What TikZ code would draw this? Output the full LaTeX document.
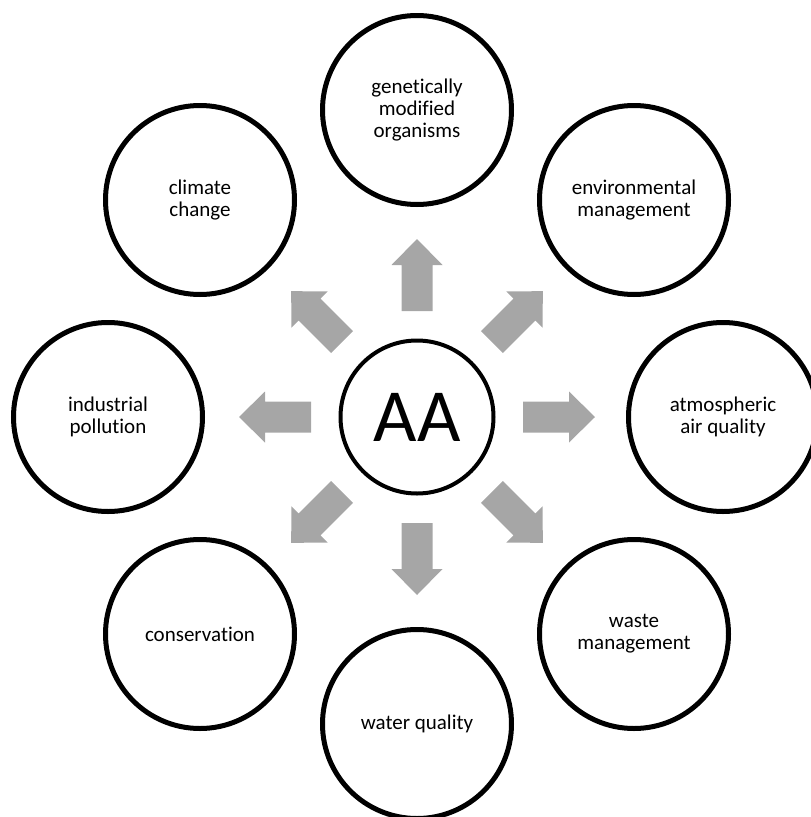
\documentclass[tikz,border=0pt]{standalone}
\usepackage{fontspec}
\setmainfont{Carlito}[Ligatures={NoCommon,NoRare,NoContextual},RawFeature={-liga;-clig}]
\definecolor{arrowgray}{HTML}{A6A6A6}
\begin{document}
\begin{tikzpicture}[x=1pt,y=-1pt,
  topic/.style={circle, draw=black, line width=5pt, minimum size=189pt, inner sep=0pt,
    align=center, fill=white, font=\fontsize{21}{22}\selectfont},
  hub/.style={circle, draw=black, line width=4pt, minimum size=153pt, inner sep=0pt,
    fill=white, font=\fontsize{75}{80}\selectfont},
  blockarrow/.style={fill=arrowgray}]
\path[use as bounding box] (0,0) rectangle (811,817);

\node[hub] (aa) at (417,417) {AA};

\node[topic] (gmo)   at (417,110) {genetically\\modified\\organisms};
\node[topic] (env)   at (634,200) {environmental\\management};
\node[topic] (atm)   at (723,417) {atmospheric\\air quality};
\node[topic] (waste) at (634,634) {waste\\management};
\node[topic] (water) at (417,724) {water quality};
\node[topic] (cons)  at (200,634) {conservation};
\node[topic] (ind)   at (108,417) {industrial\\pollution};
\node[topic] (clim)  at (200,200) {climate\\change};

\foreach \a in {0,45,...,315}
  \fill[blockarrow, shift={(aa.center)}, rotate=\a]
    (106,-15.5) -- (152,-15.5) -- (152,-25.5) -- (178,0) -- (152,25.5)
    -- (152,15.5) -- (106,15.5) -- cycle;
\end{tikzpicture}
\end{document}
